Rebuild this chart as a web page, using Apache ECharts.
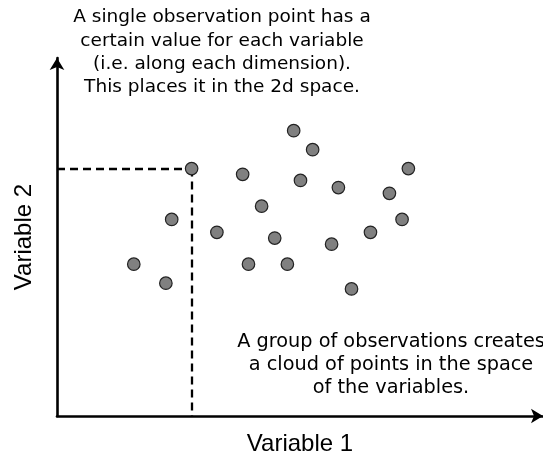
<!DOCTYPE html>
<html>
<head>
<meta charset="utf-8">
<script src="https://cdn.jsdelivr.net/npm/echarts@6/dist/echarts.min.js"></script>
<style>html,body{margin:0;padding:0;background:#fff;}#c{width:543px;height:461px;}</style>
</head>
<body>
<div id="c"></div>
<script>
// Data (arbitrary units along each variable)
const variable1 = [48.7, 52.6, 27.7, 72.3, 38.2, 50.1, 57.9, 68.4, 42.1, 71.0, 23.6, 32.9, 64.5, 44.8, 56.5, 15.8, 39.4, 47.4, 22.4, 60.6];
const variable2 = [79.7, 74.4, 69.1, 69.1, 67.5, 65.8, 63.8, 62.2, 58.6, 54.9, 54.9, 51.3, 51.3, 49.7, 48.0, 42.4, 42.4, 42.4, 37.1, 35.5];
const highlightIndex = 2;
const axisNames = ['Variable 1', 'Variable 2'];
const topNote = ['A single observation point has a', 'certain value for each variable', '(i.e. along each dimension).', 'This places it in the 2d space.'];
const bottomNote = ['A group of observations creates', 'a cloud of points in the space', 'of the variables.'];

const points = variable1.map((x, i) => [x, variable2[i]]);
const hx = variable1[highlightIndex], hy = variable2[highlightIndex];

const chart = echarts.init(document.getElementById('c'), null, {renderer: 'canvas'});
chart.setOption({
  animation: false,
  backgroundColor: '#ffffff',
  grid: {left: 57, top: 58, width: 487, height: 359.5},
  xAxis: {
    type: 'value', min: 0, max: 100,
    name: axisNames[0], nameLocation: 'middle', nameGap: 16,
    nameTextStyle: {fontFamily: 'Liberation Sans', fontSize: 24, color: '#000'},
    axisLine: {show: true, symbol: ['none', 'arrow'], symbolSize: [11, 12], lineStyle: {color: '#000', width: 2.6}},
    axisTick: {show: false}, axisLabel: {show: false}, splitLine: {show: false}
  },
  yAxis: {
    type: 'value', min: 0, max: 100,
    name: axisNames[1], nameLocation: 'middle', nameGap: 21, nameRotate: 90,
    nameTextStyle: {fontFamily: 'Liberation Sans', fontSize: 24, color: '#000'},
    axisLine: {show: true, symbol: ['none', 'arrow'], symbolSize: [11, 12], lineStyle: {color: '#000', width: 2.6}},
    axisTick: {show: false}, axisLabel: {show: false}, splitLine: {show: false}
  },
  series: [{
    type: 'scatter',
    data: points,
    symbolSize: 12.5,
    itemStyle: {color: '#808080', borderColor: '#222', borderWidth: 1.2, opacity: 1},
    z: 5,
    markLine: {
      silent: true, symbol: 'none', animation: false,
      label: {show: false},
      lineStyle: {color: '#000', width: 2.3, type: [8, 5]},
      data: [
        [{coord: [0, hy]}, {coord: [hx, hy]}],
        [{coord: [hx, hy]}, {coord: [hx, 0]}]
      ]
    }
  }],
  graphic: [
    {type: 'text', x: 222, y: 6, style: {text: topNote.join('\n'), fontFamily: 'DejaVu Sans', fontSize: 18.5, lineHeight: 23.3, fill: '#000', align: 'center', textAlign: 'center'}},
    {type: 'text', x: 391, y: 331, style: {text: bottomNote.join('\n'), fontFamily: 'DejaVu Sans', fontSize: 19.3, lineHeight: 22.8, fill: '#000', align: 'center', textAlign: 'center'}}
  ]
});
</script>
</body>
</html>
